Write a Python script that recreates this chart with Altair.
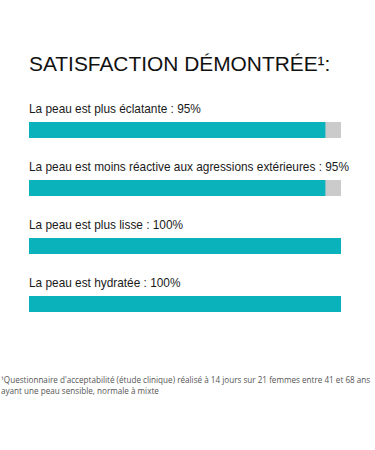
import altair as alt
import pandas as pd

labels = [
    "La peau est plus éclatante : 95%",
    "La peau est moins réactive aux agressions extérieures : 95%",
    "La peau est plus lisse : 100%",
    "La peau est hydratée : 100%",
]
keys = ["a", "b", "c", "d"]
values = [95, 95, 100, 100]
totals = [100, 100, 100, 100]

title_text = "SATISFACTION DÉMONTRÉE¹:"
footnote = [
    "¹Questionnaire d'acceptabilité (étude clinique) réalisé à 14 jours sur 21 femmes entre 41 et 68 ans",
    "ayant une peau sensible, normale à mixte",
]

df = pd.DataFrame({"key": keys, "label": labels, "value": values, "total": totals})

yscale = alt.Scale(domain=keys, paddingInner=0.724, paddingOuter=0.362)
xscale = alt.Scale(domain=[0, 100])
y = alt.Y("key:N", scale=yscale, axis=None)

base = alt.Chart(df)

bg = base.mark_bar(color="#cbcbcb").encode(
    x=alt.X("total:Q", scale=xscale, axis=None), y=y
)
fg = base.mark_bar(color="#0ab2bc").encode(
    x=alt.X("value:Q", scale=xscale, axis=None), y=y
)
txt = base.mark_text(
    align="left", baseline="alphabetic", dy=-17, fontSize=11.85,
    font="Liberation Sans", color="#1a1a1a"
).encode(x=alt.value(0), y=y, text="label:N")

fn_df = pd.DataFrame({"t": [footnote]})
fn = alt.Chart(fn_df).mark_text(
    align="left", baseline="alphabetic", fontSize=8.15, font="Open Sans",
    color="#555555", lineHeight=11
).encode(x=alt.value(-28), y=alt.value(282), text="t")

chart = alt.layer(bg, fg, txt, fn).properties(
    width=312,
    height=232,
    background="white",
    title=alt.TitleParams(
        text=title_text, anchor="start", fontSize=20.9, font="Liberation Sans",
        fontWeight="normal", color="#111111", baseline="alphabetic", offset=9,
        frame="group",
    ),
    autosize=alt.AutoSizeParams(type="none"),
    padding={"left": 29, "top": 101, "right": 34, "bottom": 117},
).configure_view(strokeWidth=0, stroke="transparent")

chart.save("out.html", embed_options={"renderer": "svg", "actions": False})
